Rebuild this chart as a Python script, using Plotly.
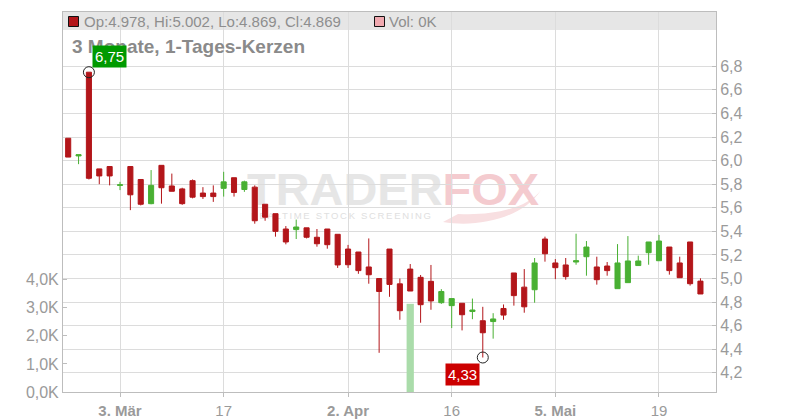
import base64
import plotly.graph_objects as go

# ---------------- data ----------------
dates = [
    "2025-02-24", "2025-02-25", "2025-02-26", "2025-02-27", "2025-02-28",
    "2025-03-03", "2025-03-04", "2025-03-05", "2025-03-06", "2025-03-07",
    "2025-03-10", "2025-03-11", "2025-03-12", "2025-03-13", "2025-03-14",
    "2025-03-17", "2025-03-18", "2025-03-19", "2025-03-20", "2025-03-21",
    "2025-03-24", "2025-03-25", "2025-03-26", "2025-03-27", "2025-03-28",
    "2025-03-31", "2025-04-01", "2025-04-02", "2025-04-03", "2025-04-04",
    "2025-04-07", "2025-04-08", "2025-04-09", "2025-04-10", "2025-04-11",
    "2025-04-14", "2025-04-15", "2025-04-16", "2025-04-17", "2025-04-22",
    "2025-04-23", "2025-04-24", "2025-04-25", "2025-04-28", "2025-04-29",
    "2025-04-30", "2025-05-02", "2025-05-05", "2025-05-06", "2025-05-07",
    "2025-05-08", "2025-05-09", "2025-05-12", "2025-05-13", "2025-05-14",
    "2025-05-15", "2025-05-16", "2025-05-19", "2025-05-20", "2025-05-21",
    "2025-05-22", "2025-05-23",
]
opens = [
    6.19, 6.04, 6.75, 5.93, 5.95, 5.79, 5.95, 5.84, 5.635, 5.96,
    5.785, 5.76, 5.83, 5.725, 5.725, 5.765, 5.855, 5.755, 5.775, 5.63,
    5.55, 5.42, 5.415, 5.43, 5.35, 5.42, 5.375, 5.25, 5.225, 5.098,
    5.00, 5.25, 4.955, 5.08, 5.01, 4.976, 4.795, 4.77, 4.79, 4.72,
    4.642, 4.635, 4.746, 5.047, 4.927, 4.905, 5.335, 5.132, 5.115, 5.14,
    5.185, 5.098, 5.106, 4.914, 4.965, 5.11, 5.219, 5.151, 5.267, 5.132,
    5.31, 4.978,
]
highs = [
    6.19, 6.05, 6.75, 5.93, 5.95, 5.82, 5.95, 5.84, 5.92, 5.96,
    5.89, 5.77, 5.84, 5.775, 5.79, 5.905, 5.855, 5.83, 5.79, 5.63,
    5.55, 5.445, 5.50, 5.43, 5.42, 5.42, 5.375, 5.285, 5.225, 5.34,
    5.00, 5.25, 5.00, 5.123, 5.03, 5.115, 4.91, 4.83, 4.79, 4.83,
    4.76, 4.706, 4.78, 5.047, 5.08, 5.174, 5.355, 5.165, 5.174, 5.38,
    5.318, 5.185, 5.14, 5.292, 5.36, 5.194, 5.31, 5.37, 5.267, 5.185,
    5.31, 5.002,
]
lows = [
    6.03, 5.97, 5.84, 5.80, 5.79, 5.75, 5.58, 5.62, 5.63, 5.635,
    5.74, 5.625, 5.68, 5.675, 5.65, 5.695, 5.695, 5.735, 5.465, 5.49,
    5.355, 5.29, 5.335, 5.34, 5.27, 5.253, 5.09, 5.09, 5.04, 4.956,
    4.37, 4.845, 4.65, 4.894, 4.625, 4.735, 4.785, 4.58, 4.56, 4.655,
    4.33, 4.49, 4.65, 4.77, 4.71, 4.795, 5.143, 4.995, 4.99, 5.117,
    5.024, 4.948, 5.024, 4.914, 4.965, 5.11, 5.117, 5.151, 5.033, 5.007,
    4.94, 4.869,
]
closes = [
    6.03, 6.05, 5.85, 5.87, 5.87, 5.795, 5.71, 5.63, 5.79, 5.77,
    5.74, 5.635, 5.69, 5.695, 5.695, 5.82, 5.73, 5.82, 5.49, 5.52,
    5.40, 5.31, 5.437, 5.35, 5.295, 5.287, 5.115, 5.117, 5.067, 5.032,
    4.89, 4.95, 4.727, 4.894, 4.778, 4.81, 4.89, 4.83, 4.693, 4.733,
    4.54, 4.657, 4.69, 4.855, 4.76, 5.132, 5.21, 5.092, 5.016, 5.151,
    5.267, 4.99, 5.067, 5.132, 5.149, 5.149, 5.31, 5.318, 5.067, 5.007,
    4.956, 4.869,
]
volumes_k = [
    0, 0, 0, 0, 0, 0, 0, 0, 0, 0,
    0, 0, 0, 0, 0, 0, 0, 0, 0, 0,
    0, 0, 0, 0, 0, 0, 0, 0, 0, 0,
    0, 0, 0, 3.14, 0, 0, 0, 0, 0, 0,
    0, 0, 0, 0, 0, 0, 0, 0, 0, 0,
    0, 0, 0, 0, 0, 0, 0, 0, 0, 0,
    0, 0,
]
tick_dates = ["2025-03-03", "2025-03-17", "2025-04-02", "2025-04-16", "2025-05-05", "2025-05-19"]
tick_labels = ["<b>3. Mär</b>", "17", "<b>2. Apr</b>", "16", "<b>5. Mai</b>", "19"]
price_ticks = [4.2, 4.4, 4.6, 4.8, 5.0, 5.2, 5.4, 5.6, 5.8, 6.0, 6.2, 6.4, 6.6, 6.8]
volume_ticks = [0, 1, 2, 3, 4]
volume_labels = ["0,0K", "1,0K", "2,0K", "3,0K", "4,0K"]

title_text = "3 Monate, 1-Tages-Kerzen"

# ---------------- styling ----------------
RED = "#b3161a"
GREEN = "#49b033"
GRID = "#dcdcdc"
AXIS = "#bdbdbd"
TXT = "#9a9a9a"
FONT = "Liberation Sans, Arial, sans-serif"

# plot area in pixels: x 63..716, y 12..392
L, R, T, B = 63, 716, 12, 392
W, H = R - L, B - T


def px(x):
    return (x - L) / W


def py(y):
    return (B - y) / H


fig = go.Figure()

fig.add_trace(go.Bar(
    x=dates, y=volumes_k, yaxis="y", xaxis="x",
    marker=dict(color="#aadcaa", line=dict(width=0)),
    hoverinfo="skip", showlegend=False,
))

fig.add_trace(go.Candlestick(
    x=dates, open=opens, high=highs, low=lows, close=closes,
    xaxis="x", yaxis="y2",
    increasing=dict(line=dict(color=GREEN, width=1), fillcolor=GREEN),
    decreasing=dict(line=dict(color=RED, width=1), fillcolor=RED),
    whiskerwidth=0, hoverinfo="skip", showlegend=False,
))

i_max = highs.index(max(highs))
i_min = lows.index(min(lows))
fig.add_trace(go.Scatter(
    x=[dates[i_max], dates[i_min]], y=[highs[i_max], lows[i_min]],
    xaxis="x", yaxis="y2", mode="markers",
    marker=dict(symbol="circle-open", size=11, color="#222", line=dict(width=1)),
    hoverinfo="skip", showlegend=False,
))

# watermark as SVG image under the traces
svg = (
    '<svg xmlns="http://www.w3.org/2000/svg" width="300" height="62" viewBox="0 0 300 62">'
    '<path d="M 200 52 C 235 58, 280 48, 298 20 C 285 38, 250 46, 215 44 Z" fill="#f8dfe1"/>'
    '<text x="4" y="35" font-family="Liberation Sans, Arial" font-weight="bold" font-size="44" '
    'textLength="292" lengthAdjust="spacingAndGlyphs">'
    '<tspan fill="#e6e6e6">TRADER</tspan><tspan fill="#f4cbcf">FOX</tspan></text>'
    '<text x="8" y="49" font-family="Liberation Sans, Arial" font-size="9.5" fill="#e0e0e0" '
    'textLength="180" lengthAdjust="spacing">REALTIME STOCK SCREENING</text>'
    '</svg>'
)
svg_uri = "data:image/svg+xml;base64," + base64.b64encode(svg.encode("utf-8")).decode("ascii")

fmt = lambda v: f"{v:.2f}".replace(".", ",")

fig.update_layout(
    width=800, height=420, autosize=False,
    margin=dict(l=L, r=800 - R, t=T, b=420 - B, pad=0, autoexpand=False),
    paper_bgcolor="white", plot_bgcolor="rgba(0,0,0,0)",
    separators=",.",
    font=dict(family=FONT, color=TXT),
    bargap=0.3,
    showlegend=False,
    xaxis=dict(
        type="category", range=[-0.5, 62.5], automargin=False,
        tickmode="array", tickvals=tick_dates, ticktext=tick_labels,
        showgrid=True, gridcolor=GRID, gridwidth=1,
        showline=True, linecolor=AXIS, linewidth=1, mirror=True,
        ticks="outside", ticklen=4, tickcolor=AXIS, ticklabelstandoff=1,
        tickfont=dict(size=15, color=TXT, family=FONT),
        rangeslider=dict(visible=False), fixedrange=True,
    ),
    yaxis=dict(
        range=[0, 13.53], tickmode="array", tickvals=volume_ticks, ticktext=volume_labels,
        automargin=False,
        showgrid=False, zeroline=False,
        showline=True, linecolor=AXIS, linewidth=1,
        ticks="inside", ticklen=4, tickcolor=AXIS,
        tickfont=dict(size=16, color=TXT, family=FONT),
        side="left", fixedrange=True,
    ),
    yaxis2=dict(
        overlaying="y", side="right", automargin=False,
        range=[4.0375, 7.2606], tickmode="array", tickvals=price_ticks,
        tickformat=".1f",
        showgrid=True, gridcolor=GRID, gridwidth=1, zeroline=False,
        showline=True, linecolor=AXIS, linewidth=1,
        ticks="inside", ticklen=4, tickcolor=AXIS,
        tickfont=dict(size=16, color=TXT, family=FONT),
        fixedrange=True,
    ),
    images=[dict(
        source=svg_uri, xref="paper", yref="paper",
        x=px(243), y=py(170), sizex=300 / W, sizey=62 / H,
        xanchor="left", yanchor="top", sizing="stretch", layer="below",
    )],
    shapes=[
        dict(type="rect", xref="paper", yref="paper", x0=0, x1=1, y0=py(30), y1=1,
             fillcolor="#e6e6e6", line=dict(width=0), layer="below"),
        dict(type="rect", xref="paper", yref="paper", x0=px(68.5), x1=px(78.5), y0=py(26.5), y1=py(16.5),
             fillcolor=RED, line=dict(color="#111", width=1), layer="above"),
        dict(type="rect", xref="paper", yref="paper", x0=px(374.5), x1=px(384.5), y0=py(26.5), y1=py(16.5),
             fillcolor="#f0a9b0", line=dict(color="#111", width=1), layer="above"),
    ],
    annotations=[
        dict(xref="paper", yref="paper", x=px(82), y=py(21.5), xanchor="left", yanchor="middle",
             text=f"Op:{opens[-1]:.3f}, Hi:{highs[-1]:.3f}, Lo:{lows[-1]:.3f}, Cl:{closes[-1]:.3f}",
             showarrow=False, font=dict(size=15, color="#8e8e8e", family=FONT)),
        dict(xref="paper", yref="paper", x=px(387), y=py(21.5), xanchor="left", yanchor="middle",
             text=f"Vol: {volumes_k[-1]:.0f}K",
             showarrow=False, font=dict(size=15, color="#8e8e8e", family=FONT)),
        dict(xref="paper", yref="paper", x=px(70), y=py(47), xanchor="left", yanchor="middle",
             text=f"<b>{title_text}</b>", showarrow=False,
             font=dict(size=19, color="#8a8a8a", family=FONT)),
        dict(xref="x", yref="y2", x=dates[i_max], y=highs[i_max], xanchor="left", yanchor="bottom",
             xshift=3, yshift=4, text=fmt(highs[i_max]), showarrow=False,
             bgcolor="#009a00", borderpad=2, font=dict(size=15, color="white", family=FONT)),
        dict(xref="x", yref="y2", x=dates[i_min], y=lows[i_min], xanchor="right", yanchor="top",
             xshift=-3, yshift=-5, text=fmt(lows[i_min]), showarrow=False,
             bgcolor="#cc0000", borderpad=2, font=dict(size=15, color="white", family=FONT)),
    ],
)

fig.write_html("out.html", config={"displayModeBar": False},
               post_script="document.body.style.margin='0px';")
